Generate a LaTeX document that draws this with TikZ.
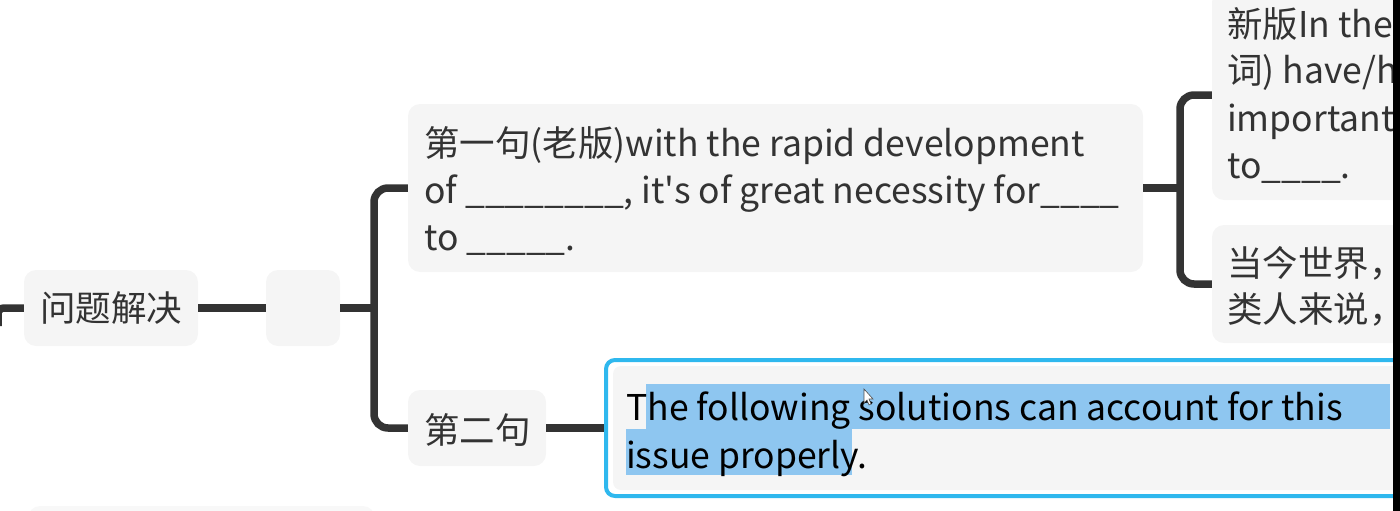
\documentclass[tikz,border=0pt]{standalone}
\usepackage{fontspec}
\newfontfamily\mainf{Noto Sans CJK SC}
\usetikzlibrary{positioning}
\definecolor{conn}{HTML}{333333}
\definecolor{boxfill}{HTML}{F5F5F5}
\definecolor{selblue}{HTML}{2FB8EE}
\definecolor{hilite}{HTML}{8EC6F0}
\definecolor{txt}{HTML}{333333}
\tikzset{
  every picture/.style={x=1pt,y=-1pt},
  box/.style={fill=boxfill, rounded corners=12pt, draw=none, inner sep=0pt},
  connline/.style={draw=conn, line width=7.5pt},
  tx/.style={anchor=base west, inner sep=0pt, text=txt, font=\mainf\fontsize{35.5}{40}\selectfont},
}
\begin{document}
\begin{tikzpicture}
\useasboundingbox (0,0) rectangle (1400,511);
\clip (0,0) rectangle (1400,511);
% boxes
\node[box, minimum width=174pt, minimum height=76pt] (root) at (111,308) {};
\node[box, minimum width=74pt, minimum height=76pt] (empty) at (303,308) {};
\node[box, minimum width=735pt, minimum height=168pt] (n1) at (775.5,188) {};
\node[box, minimum width=138pt, minimum height=76pt] (n2) at (477,428) {};
\node[box, minimum width=210pt, minimum height=210pt] (na) at (1317,95) {};
\node[box, minimum width=210pt, minimum height=118pt] (nb) at (1317,284) {};
\node[box, minimum width=347pt, minimum height=80pt, fill=boxfill!70] (nc) at (201.5,546) {};
% selected node
\node[draw=selblue, line width=4pt, rounded corners=9pt, minimum width=820pt, minimum height=136pt, inner sep=0pt] (sel) at (1016,428) {};
\node[box, rounded corners=8pt, minimum width=800pt, minimum height=124pt] (selin) at (1013,428) {};
\fill[hilite] (646,384) rectangle (1390,429);
\fill[hilite] (626,429) rectangle (852,475);
% texts
\node[tx] (t0) at (40,321) {问题解决};
\node[tx] (t11) at (424,156) {第一句(老版)with the rapid development};
\node[tx] (t12) at (424,203) {of \_\_\_\_\_\_\_\_, it's of great necessity for\_\_\_\_};
\node[tx] (t13) at (424,250) {to \_\_\_\_\_.};
\node[tx] (t2) at (424,443) {第二句};
\node[tx] (ta1) at (1227,38) {新版In the};
\node[tx] (ta2) at (1227,84) {词) have/h};
\node[tx] (ta3) at (1227,131) {important};
\node[tx] (ta4) at (1227,178) {to\_\_\_\_.};
\node[tx] (tb1) at (1227,276) {当今世界，};
\node[tx] (tb2) at (1227,322) {类人来说，};
\node[tx, text=black] (ts1) at (626,420) {The following solutions can account for this};
\node[tx, text=black] (ts2) at (626,468) {issue properly.};
% connectors
\coordinate (lin) at (0,318);
\draw[connline, rounded corners=6pt] (lin) ++(-2,8) |- (root.west);
\draw[connline] (root.east) -- (empty.west);
\coordinate (br1) at (374,308);
\draw[connline] (empty.east) -- (br1);
\draw[connline, rounded corners=14pt] (n1.west) -| (br1) |- (n2.west);
\coordinate (br2) at (1180,188);
\draw[connline] (n1.east) -- (br2);
\draw[connline, rounded corners=14pt] (na.west) -| (br2) |- (nb.west);
\draw[connline] (n2.east) -- (sel.west);
% cursor
\draw[fill=white, draw=black!70, line width=0.6pt] (864,389) -- (864,403) -- (867,400) -- (869,405) -- (871,404) -- (869,399) -- (873,399) -- cycle;
% right black strip
\fill[black] (1393,0) rectangle (1400,511);
\end{tikzpicture}
\end{document}
